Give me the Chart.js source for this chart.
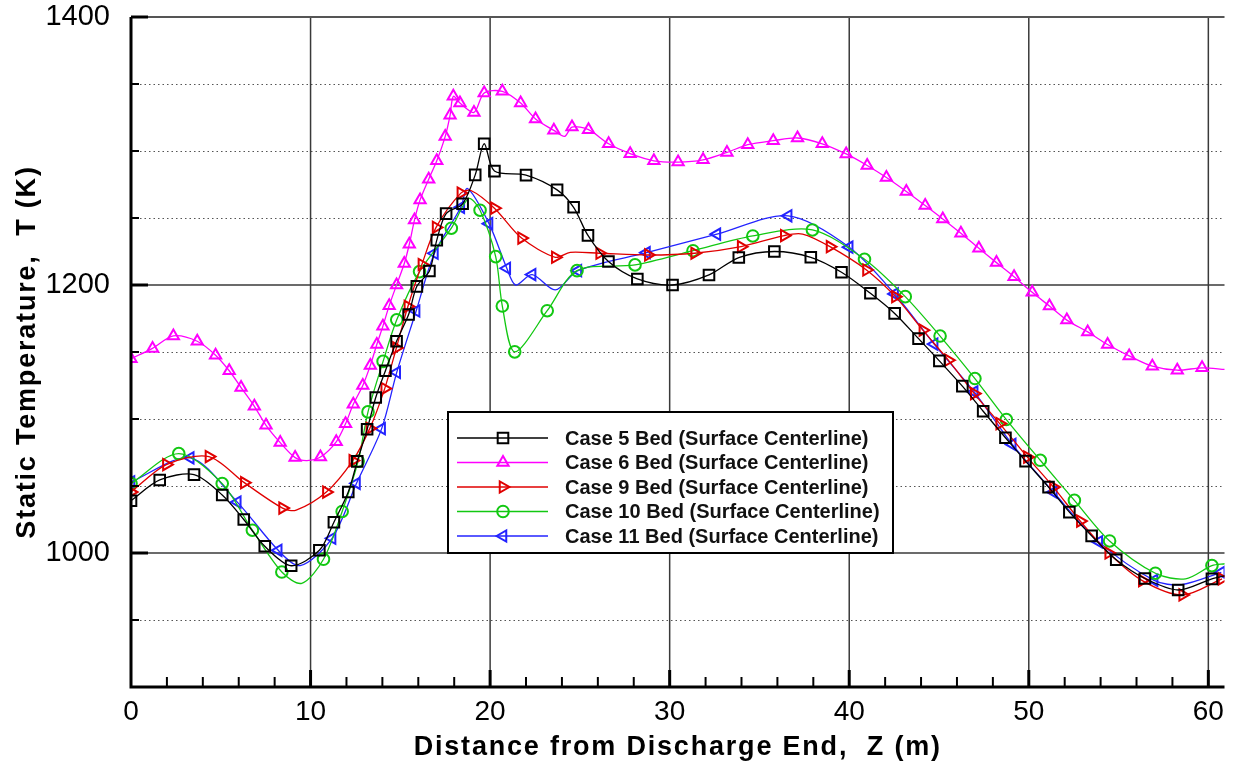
<!DOCTYPE html>
<html>
<head>
<meta charset="utf-8">
<title>Static Temperature along the bed</title>
<script src="https://cdn.jsdelivr.net/npm/chart.js@4.4.1/dist/chart.umd.min.js"></script>
<style>
  html, body { margin: 0; padding: 0; background: #fff; }
  #wrap { width: 1234px; height: 767px; position: relative; }
</style>
</head>
<body>
<div id="wrap"><canvas id="tempChart"></canvas></div>
<script>
// ---- data: Z (m) and static temperature T (K) ----
const case5Z = [0, 1.6, 3.51, 5.08, 6.28, 7.45, 8.92, 10.49, 11.3, 12.1, 12.6, 13.15, 13.63, 14.17, 14.79, 15.46, 15.92, 16.62, 17.03, 17.55, 18.47, 19.17, 19.67, 20.24, 22.0, 23.73, 24.65, 25.45, 26.59, 28.2, 30.16, 32.19, 33.85, 35.83, 37.86, 39.57, 41.18, 42.53, 43.86, 45.02, 46.3, 47.46, 48.7, 49.82, 51.1, 52.26, 53.5, 54.87, 56.47, 58.32, 60.2, 60.94];
const case5T = [1039, 1054.5, 1058.5, 1043.3, 1025, 1005, 990.5, 1002, 1023, 1045.5, 1068.4, 1092.3, 1116, 1136, 1158, 1178, 1199, 1210.5, 1233.5, 1253.3, 1260.6, 1282.2, 1305.4, 1285, 1282, 1271, 1258, 1237, 1217.5, 1204.5, 1200, 1207.5, 1220.5, 1225, 1220.7, 1209.5, 1193.8, 1178.8, 1160, 1143.4, 1124.5, 1105.8, 1086, 1068.6, 1049.2, 1030.5, 1012.8, 995, 981, 972.4, 980.7, 983];
const case5Bare = [60.94];

const case6Z = [0, 1.2, 2.36, 3.69, 4.71, 5.47, 6.13, 6.87, 7.52, 8.31, 9.14, 9.8, 10.55, 11.43, 11.95, 12.38, 12.91, 13.33, 13.69, 14.03, 14.38, 14.79, 15.22, 15.5, 15.79, 16.1, 16.58, 17.03, 17.5, 17.77, 17.95, 18.32, 19.1, 19.67, 20.68, 21.7, 22.53, 23.55, 24.15, 24.56, 25.48, 26.6, 27.8, 29.12, 30.47, 31.86, 33.19, 34.35, 35.77, 37.12, 38.5, 39.83, 41.0, 42.07, 43.18, 44.23, 45.21, 46.22, 47.22, 48.2, 49.18, 50.19, 51.15, 52.12, 53.28, 54.39, 55.59, 56.88, 58.27, 59.65, 60.94];
const case6T = [1145, 1152.7, 1162, 1158, 1147.6, 1136, 1123.5, 1109.5, 1095.3, 1082.4, 1071.2, 1069, 1071.6, 1083, 1096.5, 1111, 1125, 1140, 1155.6, 1169.3, 1184.6, 1200, 1216, 1230.4, 1248.6, 1263.5, 1279, 1292.7, 1310.9, 1326.6, 1340.8, 1335.8, 1328.8, 1343.3, 1344.5, 1335.8, 1323.9, 1315.4, 1310.9, 1317.9, 1315.9, 1305.4, 1298, 1292.7, 1291.7, 1293.4, 1298.9, 1304.7, 1307.7, 1309.7, 1305.4, 1297.8, 1289.2, 1280.2, 1269.8, 1259.3, 1249.3, 1238.6, 1227.4, 1216.7, 1206.2, 1194.5, 1184.3, 1173.8, 1165, 1155.6, 1147.1, 1139.4, 1136.4, 1138.2, 1137];
const case6Bare = [9.8, 24.15, 60.94];

const case9Z = [0, 1.97, 4.34, 6.31, 8.44, 9.2, 10.88, 12.35, 13.3, 14.13, 14.78, 15.42, 16.2, 16.99, 18.37, 18.93, 20.24, 21.75, 23.63, 24.46, 26.1, 28.81, 31.39, 33.98, 36.38, 37.4, 38.93, 40.96, 42.57, 44.1, 45.52, 46.96, 48.38, 49.92, 51.37, 52.87, 54.45, 56.32, 58.57, 60.76];
const case9T = [1045.5, 1066, 1072, 1052.5, 1033.5, 1032, 1045.5, 1069, 1093, 1122.7, 1153, 1184, 1215.3, 1243, 1268.6, 1270.5, 1257.3, 1235, 1220.7, 1224.4, 1223.7, 1222.4, 1223.7, 1228.6, 1236.9, 1238, 1228.6, 1211.2, 1191.3, 1166.3, 1143.9, 1119, 1096.6, 1071.6, 1049.2, 1023.8, 1000, 979.4, 968.7, 980.7];
const case9Bare = [9.2, 18.93, 24.46, 37.4];

const case10Z = [0, 2.66, 5.08, 6.76, 8.4, 9.51, 10.72, 11.76, 12.65, 13.2, 14.04, 14.8, 16.07, 17.84, 18.8, 19.44, 20.31, 20.68, 21.37, 23.18, 24.84, 28.07, 31.3, 34.63, 37.95, 40.85, 43.12, 45.06, 47.0, 48.75, 50.64, 52.54, 54.5, 57.05, 58.73, 60.2, 60.94];
const case10T = [1051.8, 1074.2, 1051.8, 1017, 985.8, 977.4, 995.3, 1031, 1068.6, 1105.3, 1143, 1174, 1210, 1242.4, 1264.5, 1255.8, 1221.2, 1184.3, 1150.1, 1180.8, 1210.7, 1215, 1225.6, 1236.6, 1241.1, 1219.2, 1191.3, 1161.9, 1130.2, 1099.6, 1069.2, 1039.3, 1009, 984.9, 980.7, 990.6, 992];
const case10Bare = [9.51, 18.8, 58.73, 60.94];

const case11Z = [0, 3.3, 5.92, 8.2, 9.42, 11.2, 12.56, 13.96, 14.8, 15.88, 16.9, 18.37, 18.74, 19.94, 20.93, 21.42, 22.34, 23.63, 24.89, 28.71, 32.63, 36.6, 40.0, 42.53, 44.73, 46.96, 49.08, 51.37, 53.9, 56.98, 58.5, 60.72];
const case11T = [1053, 1071, 1038, 1002, 990.6, 1011, 1052, 1092.8, 1134.8, 1180.6, 1223.7, 1258, 1272, 1245.8, 1212.5, 1200, 1207.8, 1196.3, 1210.7, 1224.1, 1237.9, 1251.6, 1228.2, 1193.3, 1155.9, 1120.2, 1081, 1045.5, 1008.3, 979.6, 976.4, 985.6];
const case11Bare = [9.42, 18.74, 21.42, 23.63, 58.5];

const caseLabels = [
  'Case 5 Bed (Surface Centerline)',
  'Case 6 Bed (Surface Centerline)',
  'Case 9 Bed (Surface Centerline)',
  'Case 10 Bed (Surface Centerline)',
  'Case 11 Bed (Surface Centerline)'
];

// axis ticks
const zMajor = [10, 20, 30, 40, 50, 60];
const zMinor = [2, 4, 6, 8, 12, 14, 16, 18, 22, 24, 26, 28, 32, 34, 36, 38, 42, 44, 46, 48, 52, 54, 56, 58];
const tMajor = [1000, 1200, 1400];
const tMinor = [950, 1050, 1100, 1150, 1250, 1300, 1350];

const xTitle = 'Distance from Discharge End,  Z (m)';
const yTitle = 'Static Temperature,  T (K)';

const FONT = "'Liberation Sans', Arial, Helvetica, sans-serif";

function toPoints(zs, ts) {
  return zs.map((z, i) => ({ x: z, y: ts[i] }));
}

function makeSeries(label, zs, ts, bare, color, style, rot, radius) {
  return {
    label: label,
    data: toPoints(zs, ts),
    borderColor: color,
    backgroundColor: 'rgba(0,0,0,0)',
    borderWidth: 1.3,
    tension: 0.3,
    pointStyle: style,
    pointRotation: rot,
    pointRadius: (c) => (c.raw && bare.includes(c.raw.x)) ? 0 : radius,
    pointBorderWidth: 2,
    pointBorderColor: color,
    pointBackgroundColor: 'rgba(0,0,0,0)',
    mkRadius: radius
  };
}

const seriesList = [
  makeSeries(caseLabels[0], case5Z, case5T, case5Bare, '#000000', 'rect', 0, 7.5),
  makeSeries(caseLabels[1], case6Z, case6T, case6Bare, '#ff00ff', 'triangle', 0, 6.5),
  makeSeries(caseLabels[2], case9Z, case9T, case9Bare, '#e00000', 'triangle', 90, 6.5),
  makeSeries(caseLabels[3], case10Z, case10T, case10Bare, '#12c812', 'circle', 0, 5.8),
  makeSeries(caseLabels[4], case11Z, case11T, case11Bare, '#2323ff', 'triangle', -90, 6.5)
];

function marker(ctx, ds, x, y) {
  ctx.save();
  ctx.strokeStyle = ds.borderColor;
  ctx.fillStyle = 'rgba(0,0,0,0)';
  ctx.lineWidth = 2;
  const opts = { pointStyle: ds.pointStyle, rotation: ds.pointRotation, radius: ds.mkRadius, borderWidth: 2 };
  if (Chart.helpers && Chart.helpers.drawPoint) {
    Chart.helpers.drawPoint(ctx, opts, x, y);
  } else {
    ctx.beginPath();
    ctx.arc(x, y, ds.mkRadius, 0, Math.PI * 2);
    ctx.stroke();
  }
  ctx.restore();
}

// grid, axes, legend box and axis titles
const framePlugin = {
  id: 'frame',
  beforeDatasetsDraw(chart) {
    const { ctx, chartArea: a, scales: { x, y } } = chart;
    ctx.save();
    // dotted minor lines
    ctx.strokeStyle = '#555';
    ctx.lineWidth = 1.2;
    ctx.setLineDash([1.5, 3]);
    tMinor.forEach(v => {
      const py = Math.round(y.getPixelForValue(v)) + 0.5;
      ctx.beginPath(); ctx.moveTo(a.left, py); ctx.lineTo(a.right, py); ctx.stroke();
    });
    ctx.setLineDash([]);
    // solid major lines
    ctx.strokeStyle = '#3a3a3a';
    ctx.lineWidth = 1.5;
    zMajor.forEach(v => {
      const px = x.getPixelForValue(v);
      ctx.beginPath(); ctx.moveTo(px, a.top); ctx.lineTo(px, a.bottom); ctx.stroke();
    });
    tMajor.forEach(v => {
      const py = y.getPixelForValue(v);
      ctx.lineWidth = v === 1400 ? 2 : 1.5;
      ctx.strokeStyle = v === 1400 ? '#555' : '#3a3a3a';
      ctx.beginPath(); ctx.moveTo(a.left, py); ctx.lineTo(a.right, py); ctx.stroke();
    });
    ctx.restore();
  },
  afterDatasetsDraw(chart) {
    const { ctx, chartArea: a, scales: { x, y } } = chart;
    ctx.save();
    ctx.strokeStyle = '#000';
    // axis lines
    ctx.lineWidth = 3;
    ctx.beginPath();
    ctx.moveTo(a.left, a.top); ctx.lineTo(a.left, a.bottom); ctx.lineTo(a.right, a.bottom);
    ctx.stroke();
    // ticks pointing into the plot
    zMajor.forEach(v => {
      const px = x.getPixelForValue(v);
      ctx.beginPath(); ctx.moveTo(px, a.bottom); ctx.lineTo(px, a.bottom - 17); ctx.stroke();
    });
    tMajor.forEach(v => {
      const py = y.getPixelForValue(v);
      ctx.beginPath(); ctx.moveTo(a.left, py); ctx.lineTo(a.left + 17, py); ctx.stroke();
    });
    ctx.lineWidth = 2;
    zMinor.forEach(v => {
      const px = x.getPixelForValue(v);
      ctx.beginPath(); ctx.moveTo(px, a.bottom); ctx.lineTo(px, a.bottom - 10); ctx.stroke();
    });
    tMinor.forEach(v => {
      const py = y.getPixelForValue(v);
      ctx.beginPath(); ctx.moveTo(a.left, py); ctx.lineTo(a.left + 8, py); ctx.stroke();
    });
    ctx.restore();
  },
  afterDraw(chart) {
    const { ctx, chartArea: a } = chart;
    ctx.save();
    // legend box
    const bx = 448, by = 412, bw = 445, bh = 141;
    ctx.fillStyle = '#fff';
    ctx.fillRect(bx, by, bw, bh);
    ctx.lineWidth = 2;
    ctx.strokeStyle = '#000';
    ctx.strokeRect(bx, by, bw, bh);
    ctx.font = 'bold 20px ' + FONT;
    ctx.textBaseline = 'middle';
    ctx.textAlign = 'left';
    chart.data.datasets.forEach((ds, i) => {
      const ry = 438 + i * 24.5;
      ctx.strokeStyle = ds.borderColor;
      ctx.lineWidth = 1.3;
      ctx.beginPath(); ctx.moveTo(457, ry); ctx.lineTo(548, ry); ctx.stroke();
      marker(ctx, ds, 503, ry);
      ctx.fillStyle = '#111';
      ctx.fillText(ds.label, 565, ry + 1);
    });
    // axis titles
    ctx.fillStyle = '#000';
    ctx.font = 'bold 27px ' + FONT;
    ctx.letterSpacing = '1.8px';
    ctx.textBaseline = 'alphabetic';
    ctx.textAlign = 'center';
    ctx.fillText(xTitle, (a.left + a.right) / 2, 755);
    ctx.translate(35, (a.top + a.bottom) / 2);
    ctx.rotate(-Math.PI / 2);
    ctx.fillText(yTitle, 0, 0);
    ctx.restore();
  }
};

new Chart(document.getElementById('tempChart'), {
  type: 'line',
  data: { datasets: seriesList },
  options: {
    responsive: true,
    maintainAspectRatio: false,
    animation: false,
    events: [],
    layout: { padding: { left: 0, top: 17, right: 7, bottom: 0 } },
    plugins: {
      legend: { display: false },
      tooltip: { enabled: false }
    },
    scales: {
      x: {
        type: 'linear',
        min: 0,
        max: 60.9,
        grid: { display: false },
        border: { display: false },
        ticks: {
          stepSize: 10,
          includeBounds: false,
          autoSkip: false,
          maxRotation: 0,
          padding: 0,
          color: '#000',
          font: { family: FONT, size: 28 },
          callback: v => (v % 10 === 0 ? v : '')
        },
        afterFit: s => { s.height = 80; s.paddingLeft = 0; s.paddingRight = 0; }
      },
      y: {
        type: 'linear',
        min: 900,
        max: 1400,
        grid: { display: false },
        border: { display: false },
        ticks: {
          stepSize: 50,
          includeBounds: false,
          autoSkip: false,
          padding: 13,
          color: '#000',
          font: { family: FONT, size: 29 },
          callback: v => (v % 200 === 0 && v > 900 ? v : '')
        },
        afterFit: s => { s.width = 131; s.paddingTop = 0; s.paddingBottom = 0; }
      }
    }
  },
  plugins: [framePlugin]
});
</script>
</body>
</html>
